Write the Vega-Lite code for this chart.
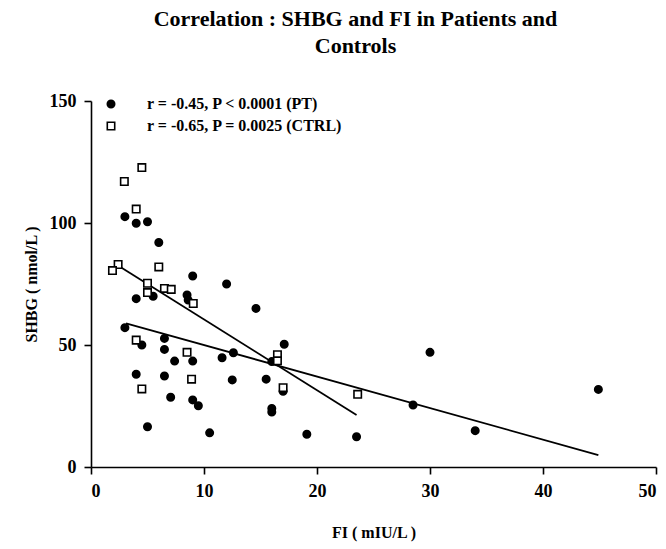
{
  "$schema": "https://vega.github.io/schema/vega-lite/v6.json",
  "width": 565,
  "height": 366,
  "autosize": {"type": "none"},
  "padding": {"left": 91, "top": 101, "right": 10, "bottom": 82},
  "background": "white",
  "title": {
    "text": ["Correlation : SHBG and FI in Patients and", "Controls"],
    "font": "Liberation Serif",
    "fontSize": 22,
    "fontWeight": "bold",
    "color": "black",
    "anchor": "middle",
    "dx": -18,
    "lineHeight": 27,
    "offset": 34
  },
  "datasets": {
    "pts": [
      {"group": "PT", "fi": 3.0, "shbg": 102.6},
      {"group": "PT", "fi": 4.0, "shbg": 99.9},
      {"group": "PT", "fi": 5.0, "shbg": 100.5},
      {"group": "PT", "fi": 6.0, "shbg": 92},
      {"group": "PT", "fi": 9.0, "shbg": 78.3},
      {"group": "PT", "fi": 4.0, "shbg": 69},
      {"group": "PT", "fi": 5.5, "shbg": 70},
      {"group": "PT", "fi": 8.5, "shbg": 70.5},
      {"group": "PT", "fi": 8.6, "shbg": 68.4},
      {"group": "PT", "fi": 12.0, "shbg": 75},
      {"group": "PT", "fi": 14.6, "shbg": 65},
      {"group": "PT", "fi": 3.0, "shbg": 57.1},
      {"group": "PT", "fi": 4.5, "shbg": 50},
      {"group": "PT", "fi": 6.5, "shbg": 52.7},
      {"group": "PT", "fi": 6.5, "shbg": 48.2},
      {"group": "PT", "fi": 7.4, "shbg": 43.4},
      {"group": "PT", "fi": 9.0, "shbg": 43.4},
      {"group": "PT", "fi": 4.0, "shbg": 38},
      {"group": "PT", "fi": 6.5, "shbg": 37.3},
      {"group": "PT", "fi": 7.05, "shbg": 28.6},
      {"group": "PT", "fi": 9.0, "shbg": 27.5},
      {"group": "PT", "fi": 9.5, "shbg": 25.1},
      {"group": "PT", "fi": 5.0, "shbg": 16.5},
      {"group": "PT", "fi": 17.1, "shbg": 50.3},
      {"group": "PT", "fi": 12.6, "shbg": 46.8},
      {"group": "PT", "fi": 11.6, "shbg": 44.8},
      {"group": "PT", "fi": 16.0, "shbg": 43.2},
      {"group": "PT", "fi": 12.5, "shbg": 35.7},
      {"group": "PT", "fi": 15.5, "shbg": 36},
      {"group": "PT", "fi": 16.0, "shbg": 24},
      {"group": "PT", "fi": 16.0, "shbg": 22.5},
      {"group": "PT", "fi": 17.0, "shbg": 31},
      {"group": "PT", "fi": 10.5, "shbg": 14},
      {"group": "PT", "fi": 19.1, "shbg": 13.4},
      {"group": "PT", "fi": 23.5, "shbg": 12.4},
      {"group": "PT", "fi": 28.5, "shbg": 25.4},
      {"group": "PT", "fi": 30.0, "shbg": 47},
      {"group": "PT", "fi": 34.0, "shbg": 14.9},
      {"group": "PT", "fi": 44.9, "shbg": 31.8},
      {"group": "CTRL", "fi": 4.5, "shbg": 122.7},
      {"group": "CTRL", "fi": 2.95, "shbg": 117},
      {"group": "CTRL", "fi": 4.0, "shbg": 105.7},
      {"group": "CTRL", "fi": 2.4, "shbg": 83},
      {"group": "CTRL", "fi": 1.9, "shbg": 80.5},
      {"group": "CTRL", "fi": 6.0, "shbg": 82},
      {"group": "CTRL", "fi": 5.0, "shbg": 75.3},
      {"group": "CTRL", "fi": 5.0, "shbg": 71.5},
      {"group": "CTRL", "fi": 6.5, "shbg": 73.2},
      {"group": "CTRL", "fi": 7.1, "shbg": 72.8},
      {"group": "CTRL", "fi": 9.05, "shbg": 67},
      {"group": "CTRL", "fi": 4.0, "shbg": 52},
      {"group": "CTRL", "fi": 8.5, "shbg": 47},
      {"group": "CTRL", "fi": 8.9, "shbg": 36},
      {"group": "CTRL", "fi": 4.5, "shbg": 32},
      {"group": "CTRL", "fi": 16.5, "shbg": 46},
      {"group": "CTRL", "fi": 16.5, "shbg": 43.5},
      {"group": "CTRL", "fi": 17.0, "shbg": 32.5},
      {"group": "CTRL", "fi": 23.6, "shbg": 29.8}
    ],
    "fits": [
      {"group": "PT", "fi": 3.1, "shbg": 58.9},
      {"group": "PT", "fi": 44.9, "shbg": 4.9},
      {"group": "CTRL", "fi": 2.6, "shbg": 82},
      {"group": "CTRL", "fi": 23.5, "shbg": 21.3}
    ]
  },
  "layer": [
    {
      "data": {"name": "fits"},
      "mark": {"type": "line", "color": "black", "strokeWidth": 1.8},
      "encoding": {
        "x": {"field": "fi", "type": "quantitative"},
        "y": {"field": "shbg", "type": "quantitative"},
        "detail": {"field": "group"}
      }
    },
    {
      "data": {"name": "pts"},
      "mark": {"type": "point", "filled": true, "stroke": "black", "strokeWidth": 1.6, "opacity": 1},
      "encoding": {
        "x": {
          "field": "fi", "type": "quantitative",
          "scale": {"domain": [0, 50], "nice": false, "zero": false},
          "axis": {"values": [0, 10, 20, 30, 40, 50], "title": "FI ( mIU/L )", "titlePadding": 24, "labelPadding": 8}
        },
        "y": {
          "field": "shbg", "type": "quantitative",
          "scale": {"domain": [0, 150], "nice": false, "zero": false},
          "axis": {"values": [0, 50, 100, 150], "title": "SHBG ( nmol/L )", "titlePadding": 10, "labelPadding": 8}
        },
        "shape": {
          "field": "group", "type": "nominal",
          "scale": {"domain": ["PT", "CTRL"], "range": ["circle", "square"]},
          "legend": {
            "orient": "none", "legendX": 12, "legendY": -5, "title": null,
            "labelExpr": "datum.label == 'PT' ? 'r = -0.45, P < 0.0001 (PT)' : 'r = -0.65, P = 0.0025 (CTRL)'",
            "labelFont": "Liberation Serif", "labelFontSize": 16, "labelFontWeight": "bold",
            "labelColor": "black", "labelOffset": 28, "labelLimit": 500, "rowPadding": 6, "symbolSize": 55,
            "symbolStrokeColor": "black", "symbolStrokeWidth": 1.6,
            "encode": {"symbols": {"update": {"stroke": {"value": "black"}, "strokeWidth": {"value": 1.6}, "opacity": {"value": 1}}}}
          }
        },
        "color": {
          "field": "group", "type": "nominal",
          "scale": {"domain": ["PT", "CTRL"], "range": ["black", "white"]}
        },
        "size": {"value": 55}
      }
    }
  ],
  "config": {
    "view": {"stroke": null},
    "axis": {
      "grid": false,
      "domainColor": "black",
      "domainWidth": 1.6,
      "tickColor": "black",
      "tickWidth": 1.6,
      "tickSize": 7,
      "labelFont": "Liberation Serif",
      "labelFontSize": 18,
      "labelFontWeight": "bold",
      "labelColor": "black",
      "titleFont": "Liberation Serif",
      "titleFontSize": 16,
      "titleFontWeight": "bold",
      "titleColor": "black"
    }
  }
}
